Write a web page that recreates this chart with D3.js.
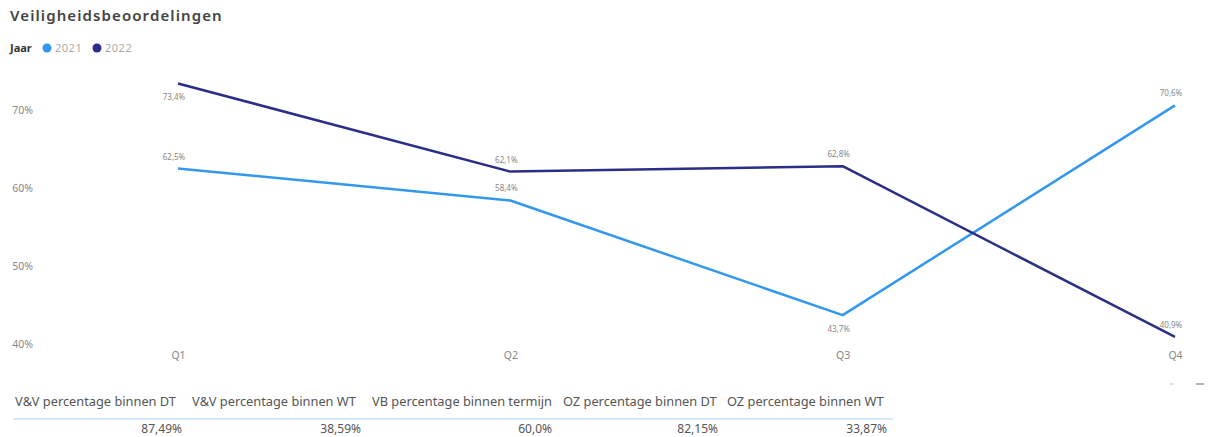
<!DOCTYPE html>
<html>
<head>
<meta charset="utf-8">
<script src="https://cdn.jsdelivr.net/npm/d3@7"></script>
<style>
  body { margin: 0; background: #fff; }
  text { font-family: "Noto Sans", "Open Sans", sans-serif; }
</style>
</head>
<body>
<div id="chart"></div>
<script>
// data
var quarters = ["Q1", "Q2", "Q3", "Q4"];
var years = ["2021", "2022"];
var values2021 = [62.5, 58.4, 43.7, 70.6];
var values2022 = [73.4, 62.1, 62.8, 40.9];
var labelSide2021 = ["above", "above", "below", "above"];
var labelSide2022 = ["below", "above", "above", "above"];
var yTicks = [40, 50, 60, 70];

var tableHeaders = ["V&V percentage binnen DT", "V&V percentage binnen WT", "VB percentage binnen termijn", "OZ percentage binnen DT", "OZ percentage binnen WT"];
var tableValues = ["87,49%", "38,59%", "60,0%", "82,15%", "33,87%"];

var colors = { "2021": "#3497ee", "2022": "#2b2e86" };

var W = 1214, H = 437;
var svg = d3.select("#chart").append("svg")
    .attr("width", W).attr("height", H);

// title
svg.append("text")
    .attr("x", 10).attr("y", 21)
    .attr("font-size", 15).attr("font-weight", 600)
    .attr("letter-spacing", 1.1)
    .attr("fill", "#444")
    .text("Veiligheidsbeoordelingen");

// legend
var lg = svg.append("g").attr("transform", "translate(10,52)");
lg.append("text").attr("x", 0).attr("y", 0)
    .attr("font-size", 11).attr("font-weight", 700).attr("fill", "#333")
    .text("Jaar");
var lx = 37;
years.forEach(function(y){
    lg.append("circle").attr("cx", lx).attr("cy", -4).attr("r", 4.5).attr("fill", colors[y]);
    lg.append("text").attr("x", lx + 8).attr("y", 0)
        .attr("font-size", 11).attr("letter-spacing", 0.5).attr("fill", "#aaa").text(y);
    lx += 50;
});

// scales
var x = d3.scalePoint().domain(quarters).range([178, 1175]);
var yScale = d3.scaleLinear().domain([40, 70]).range([344, 110]);

// y axis labels
var yAxis = d3.axisLeft(yScale).tickValues(yTicks)
    .tickFormat(function(d){ return d + "%"; }).tickSize(0);
var gy = svg.append("g").attr("transform", "translate(36,0)").call(yAxis);
gy.select(".domain").remove();
gy.selectAll("text").attr("font-size", 10.5).attr("fill", "#888")
    .attr("font-family", "'Noto Sans', sans-serif");

// x axis labels
var xAxis = d3.axisBottom(x).tickSize(0);
var gx = svg.append("g").attr("transform", "translate(0,349)").call(xAxis);
gx.select(".domain").remove();
gx.selectAll("text").attr("font-size", 10.5).attr("fill", "#888")
    .attr("font-family", "'Noto Sans', sans-serif");

// lines
var series = [
    { year: "2021", values: values2021, sides: labelSide2021 },
    { year: "2022", values: values2022, sides: labelSide2022 }
];
var line = d3.line()
    .x(function(d, i){ return x(quarters[i]); })
    .y(function(d){ return yScale(d); });

function fmt(v){ return v.toFixed(1).replace(".", ",") + "%"; }

series.forEach(function(s){
    svg.append("path")
        .datum(s.values)
        .attr("d", line)
        .attr("fill", "none")
        .attr("stroke", colors[s.year])
        .attr("stroke-width", 2.5)
        .attr("stroke-linejoin", "round");

    svg.selectAll(null)
        .data(s.values)
        .enter().append("text")
        .attr("x", function(d, i){ return x(quarters[i]) - 4; })
        .attr("y", function(d, i){ return yScale(d) + (s.sides[i] === "above" ? -9 : 17); })
        .attr("text-anchor", "middle")
        .attr("font-size", 8)
        .attr("fill", "#888")
        .text(fmt);
});

// small marks bottom right
svg.append("line").attr("x1", 1170).attr("x2", 1173).attr("y1", 384).attr("y2", 384)
    .attr("stroke", "#bbb").attr("stroke-width", 1);
svg.append("line").attr("x1", 1196).attr("x2", 1204).attr("y1", 384).attr("y2", 384)
    .attr("stroke", "#999").attr("stroke-width", 1.5);

// table
var colRight = [182, 361, 552, 718, 887];
var colLeft = [15, 192, 372, 563, 727];
var tb = svg.append("g");
tb.selectAll(".hdr").data(tableHeaders).enter().append("text")
    .attr("x", function(d, i){ return colLeft[i]; })
    .attr("y", 406)
    .attr("font-size", 12.8).attr("fill", "#555")
    .text(function(d){ return d; });
tb.append("line").attr("x1", 13).attr("x2", 893).attr("y1", 419).attr("y2", 419)
    .attr("stroke", "#a9cdf0").attr("stroke-width", 1);
tb.selectAll(".val").data(tableValues).enter().append("text")
    .attr("x", function(d, i){ return colRight[i]; })
    .attr("y", 433)
    .attr("text-anchor", "end")
    .attr("font-size", 12).attr("fill", "#555")
    .text(function(d){ return d; });
</script>
</body>
</html>
